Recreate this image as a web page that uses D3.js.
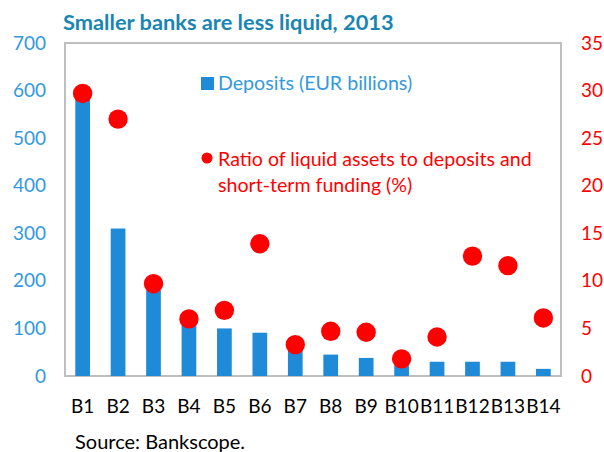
<!DOCTYPE html>
<html>
<head>
<meta charset="utf-8">
<script src="https://d3js.org/d3.v7.min.js"></script>
<style>
  body { margin: 0; background: #fff; }
  svg { font-family: Lato, "Open Sans", sans-serif; }
</style>
</head>
<body>
<div id="chart"></div>
<script>
const banks = ["B1","B2","B3","B4","B5","B6","B7","B8","B9","B10","B11","B12","B13","B14"];
const deposits = [595, 310, 180, 110, 100, 91, 58, 45, 38, 22, 30, 30, 30, 15];
const ratio = [29.7, 27.0, 9.7, 6.0, 6.9, 13.9, 3.3, 4.7, 4.6, 1.8, 4.1, 12.6, 11.6, 6.1];
const leftTicks = [0, 100, 200, 300, 400, 500, 600, 700];
const rightTicks = [0, 5, 10, 15, 20, 25, 30, 35];

const w = 604, h = 452;
const plotLeft = 65, plotRight = 561, plotTop = 43, plotBottom = 376;

const svg = d3.select("#chart").append("svg")
    .attr("width", w)
    .attr("height", h);

const x = d3.scaleBand().domain(banks).range([plotLeft, plotRight]).paddingInner(0.585).paddingOuter(0.29);
const yL = d3.scaleLinear().domain([0, 700]).range([plotBottom, plotTop]);
const yR = d3.scaleLinear().domain([0, 35]).range([plotBottom, plotTop]);

// title
svg.append("text")
    .attr("x", 63).attr("y", 30)
    .style("font-size", "21.8px").style("font-weight", "bold")
    .style("fill", "#1985B2")
    .text("Smaller banks are less liquid, 2013");

// frame
svg.append("rect")
    .attr("x", plotLeft).attr("y", plotTop)
    .attr("width", plotRight - plotLeft).attr("height", plotBottom - plotTop)
    .attr("fill", "none").attr("stroke", "#bfbfbf").attr("stroke-width", 2);

// bars
svg.selectAll(".bar").data(deposits).enter().append("rect")
    .attr("class", "bar")
    .attr("x", (d, i) => x(banks[i]))
    .attr("width", x.bandwidth())
    .attr("y", d => yL(d))
    .attr("height", d => plotBottom - yL(d))
    .attr("fill", "#1F8AD7");

// dots
svg.selectAll(".dot").data(ratio).enter().append("circle")
    .attr("class", "dot")
    .attr("cx", (d, i) => x(banks[i]) + x.bandwidth() / 2)
    .attr("cy", d => yR(d))
    .attr("r", 9.7)
    .attr("fill", "#ff0000");

// axes
const axL = svg.append("g")
    .attr("transform", "translate(46,0)")
    .call(d3.axisLeft(yL).tickValues(leftTicks).tickSize(0).tickPadding(0));
axL.select(".domain").remove();
axL.selectAll("text").style("font-size", "19px").style("fill", "#3399DD").style("font-family", "Lato, sans-serif");

const axR = svg.append("g")
    .attr("transform", "translate(581,0)")
    .call(d3.axisRight(yR).tickValues(rightTicks).tickSize(0).tickPadding(0));
axR.select(".domain").remove();
axR.selectAll("text").style("font-size", "19px").style("fill", "#ff0000").style("font-family", "Lato, sans-serif");

const axB = svg.append("g")
    .attr("transform", "translate(0," + plotBottom + ")")
    .call(d3.axisBottom(x).tickSize(0).tickPadding(24));
axB.select(".domain").remove();
axB.selectAll("text").style("font-size", "19px").style("fill", "#000").style("font-family", "Lato, sans-serif");

// legend
svg.append("rect").attr("x", 201).attr("y", 77).attr("width", 13).attr("height", 13).attr("fill", "#1F8AD7");
svg.append("text").attr("x", 218).attr("y", 90)
    .style("font-size", "19.6px").style("fill", "#3399DD")
    .text("Deposits (EUR billions)");
svg.append("circle").attr("cx", 207).attr("cy", 158).attr("r", 5.5).attr("fill", "#ff0000");
svg.append("text").attr("x", 218).attr("y", 166)
    .style("font-size", "19.6px").style("fill", "#ff0000")
    .text("Ratio of liquid assets to deposits and");
svg.append("text").attr("x", 218).attr("y", 192)
    .style("font-size", "19.6px").style("fill", "#ff0000")
    .text("short-term funding (%)");

// source
svg.append("text").attr("x", 75).attr("y", 449)
    .style("font-size", "20px").style("fill", "#000")
    .text("Source: Bankscope.");
</script>
</body>
</html>
